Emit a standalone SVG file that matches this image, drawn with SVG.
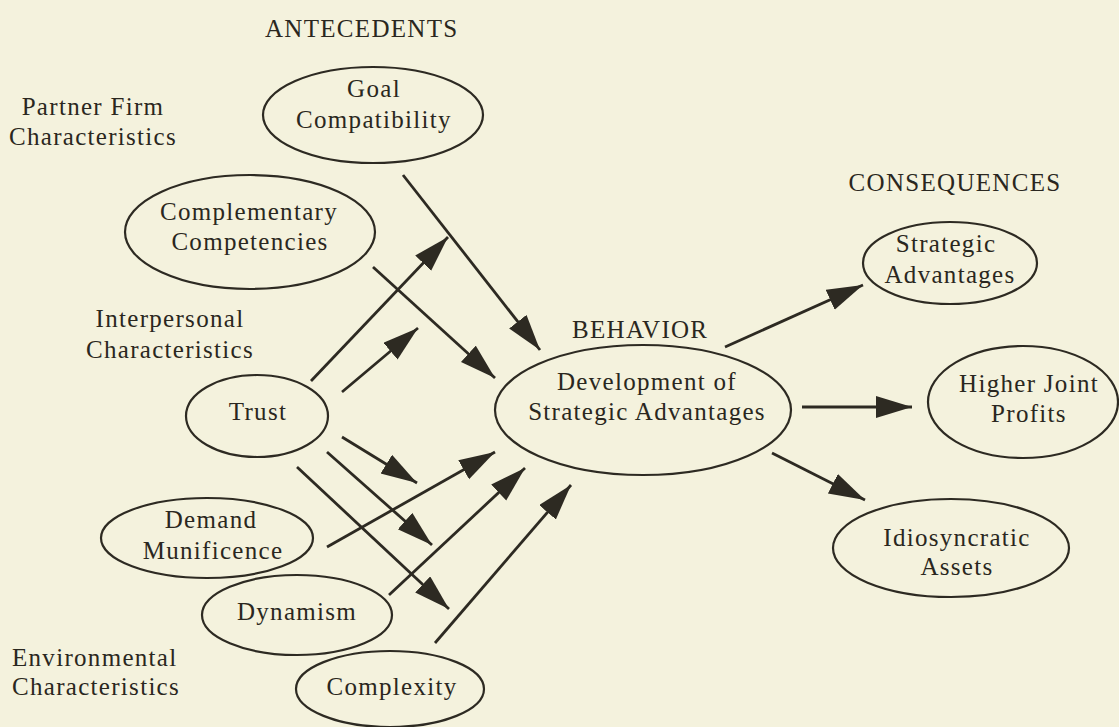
<svg xmlns="http://www.w3.org/2000/svg" width="1119" height="727" viewBox="0 0 1119 727">
<defs>
<style>
text{font-family:"Liberation Serif","Times New Roman",serif;font-size:25px;fill:#2a2720;letter-spacing:1.3px}
.c{text-anchor:middle}
ellipse{fill:none;stroke:#2d2a22;stroke-width:2.2}
.conn line{stroke:#2d2a22;stroke-width:2.8}
</style>
<marker id="ah" markerUnits="userSpaceOnUse" markerWidth="38" markerHeight="24" refX="36" refY="11" orient="auto">
<path d="M0,0 L36,11 L0,22 Z" fill="#2d2a22"/>
</marker>
</defs>
<rect width="1119" height="727" fill="#f4f2dd"/>
<g id="labels">
<text x="265" y="37">ANTECEDENTS</text>
<text class="c" x="93" y="115">Partner Firm</text>
<text class="c" x="93" y="145">Characteristics</text>
<text class="c" x="170" y="327">Interpersonal</text>
<text class="c" x="170" y="358">Characteristics</text>
<text x="12" y="666">Environmental</text>
<text x="12" y="695">Characteristics</text>
<text x="572" y="338">BEHAVIOR</text>
<text class="c" x="955" y="191">CONSEQUENCES</text>
</g>
<g id="goal"><ellipse cx="373" cy="115" rx="110" ry="48"/><text class="c" x="374" y="97">Goal</text><text class="c" x="374" y="128">Compatibility</text></g>
<g id="complementary"><ellipse cx="250" cy="232" rx="125" ry="57"/><text class="c" x="249" y="220">Complementary</text><text class="c" x="250" y="250">Competencies</text></g>
<g id="trust"><ellipse cx="257" cy="416" rx="71" ry="41"/><text class="c" x="258" y="420">Trust</text></g>
<g id="demand"><ellipse cx="207" cy="538" rx="106" ry="40"/><text class="c" x="211" y="528">Demand</text><text class="c" x="213" y="559">Munificence</text></g>
<g id="dynamism"><ellipse cx="297" cy="615" rx="95" ry="40"/><text class="c" x="297" y="620">Dynamism</text></g>
<g id="complexity"><ellipse cx="390" cy="689" rx="94" ry="38"/><text class="c" x="392" y="695">Complexity</text></g>
<g id="development"><ellipse cx="643" cy="410" rx="148" ry="65"/><text class="c" x="647" y="390">Development of</text><text class="c" x="647" y="420">Strategic Advantages</text></g>
<g id="strategic"><ellipse cx="950" cy="263" rx="87" ry="41"/><text class="c" x="946" y="252">Strategic</text><text class="c" x="950" y="283">Advantages</text></g>
<g id="higher"><ellipse cx="1023" cy="402" rx="95" ry="56"/><text class="c" x="1029" y="392">Higher Joint</text><text class="c" x="1029" y="422">Profits</text></g>
<g id="idiosyncratic"><ellipse cx="951" cy="548" rx="118" ry="49"/><text class="c" x="957" y="546">Idiosyncratic</text><text class="c" x="957" y="575">Assets</text></g>
<g id="connectors" class="conn">
<line x1="403" y1="175" x2="540" y2="350" marker-end="url(#ah)"/>
<line x1="373" y1="267" x2="495" y2="378" marker-end="url(#ah)"/>
<line x1="311" y1="381" x2="448" y2="237" marker-end="url(#ah)"/>
<line x1="342" y1="392" x2="418" y2="328" marker-end="url(#ah)"/>
<line x1="342" y1="437" x2="417" y2="483" marker-end="url(#ah)"/>
<line x1="327" y1="452" x2="432" y2="545" marker-end="url(#ah)"/>
<line x1="297" y1="467" x2="449" y2="609" marker-end="url(#ah)"/>
<line x1="327" y1="547" x2="495" y2="452" marker-end="url(#ah)"/>
<line x1="389" y1="595" x2="525" y2="468" marker-end="url(#ah)"/>
<line x1="435" y1="643" x2="571" y2="485" marker-end="url(#ah)"/>
<line x1="725" y1="347" x2="863" y2="285" marker-end="url(#ah)"/>
<line x1="802" y1="407" x2="912" y2="407" marker-end="url(#ah)"/>
<line x1="772" y1="453" x2="865" y2="500" marker-end="url(#ah)"/>
</g>
</svg>
